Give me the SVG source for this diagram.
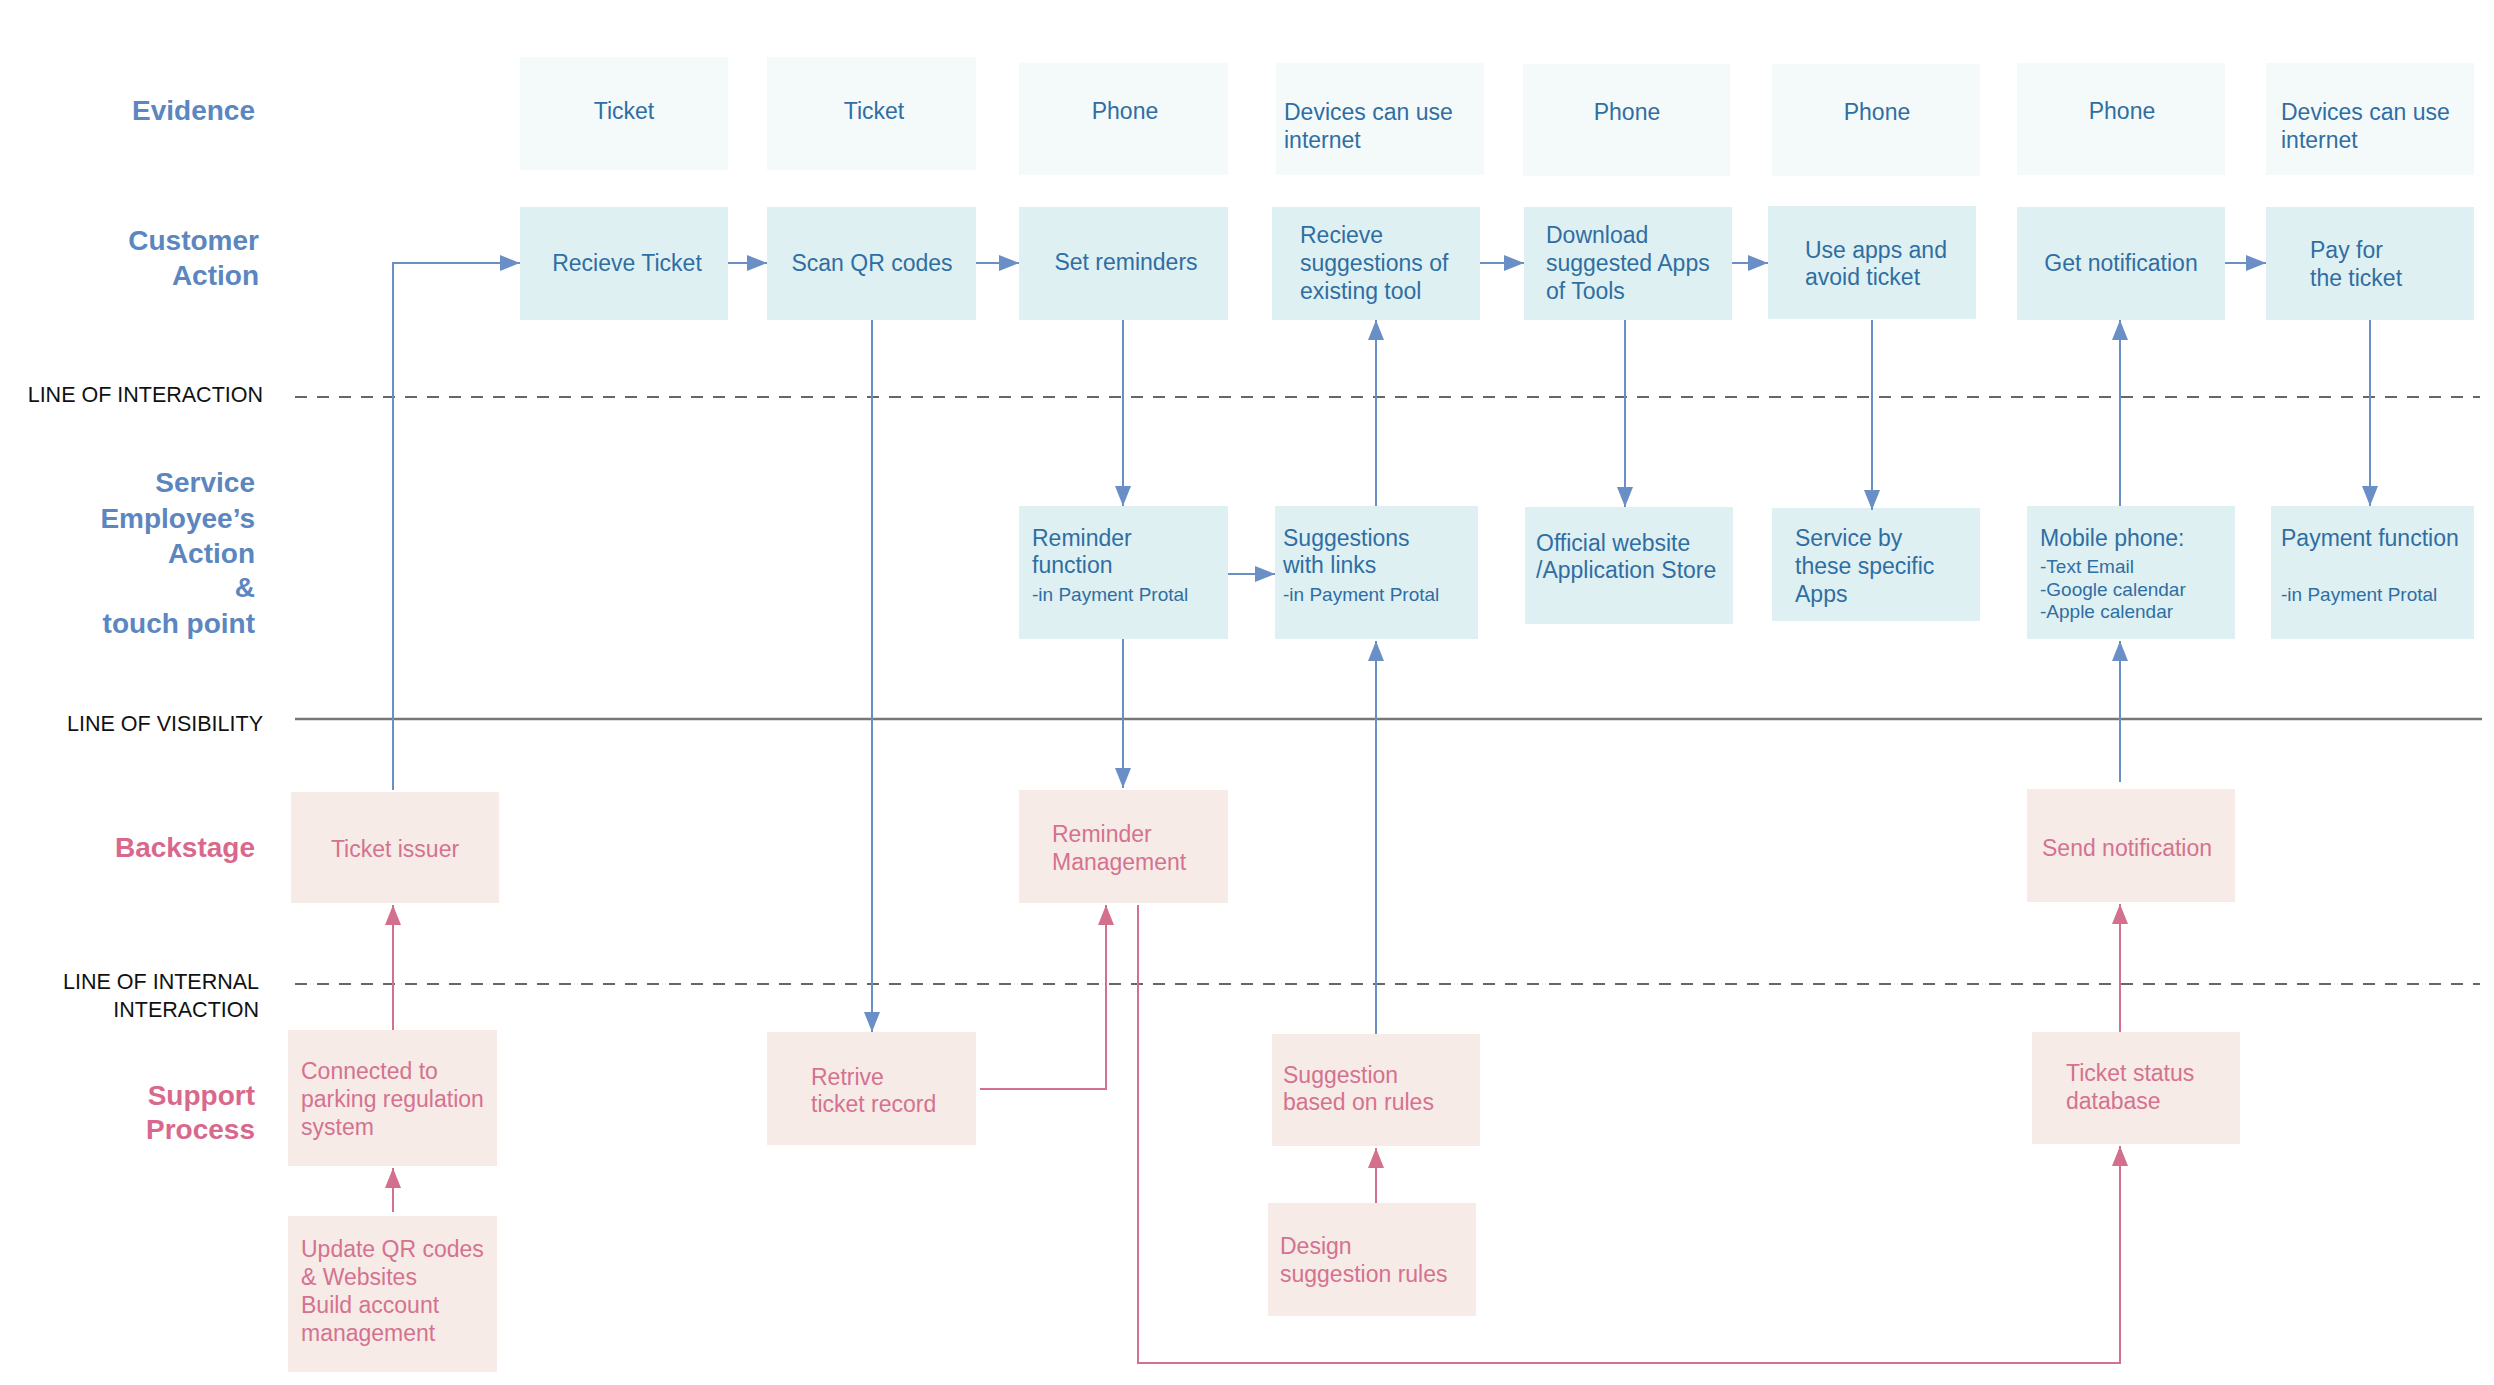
<svg xmlns="http://www.w3.org/2000/svg" width="2494" height="1385" viewBox="0 0 2494 1385">
<style>
text{font-family:"Liberation Sans",Arial,sans-serif;}
.ev{fill:#f4fafa}.ca{fill:#dff0f2}.pk{fill:#f7ebe8}
.bt{fill:#2f6ea3;font-size:23px}.st{fill:#2f6ea3;font-size:19px}
.pt{fill:#d4728f;font-size:23px}
.lb{fill:#5b86c0;font-size:28px;font-weight:bold;text-anchor:end}
.lp{fill:#d9688d;font-size:28px;font-weight:bold;text-anchor:end}
.ll{fill:#111;font-size:21.5px;text-anchor:end}
.c{text-anchor:middle}
.bl{stroke:#6a8fc6;stroke-width:2;fill:none;marker-end:url(#ab)}
.pl{stroke:#d3708e;stroke-width:2;fill:none;marker-end:url(#ap)}
</style>
<defs>
<marker id="ab" markerUnits="userSpaceOnUse" markerWidth="20" markerHeight="20" viewBox="0 0 20 20" refX="20" refY="10" orient="auto"><path d="M0,2 L20,10 L0,18 Z" fill="#6a8fc6"/></marker>
<marker id="ap" markerUnits="userSpaceOnUse" markerWidth="20" markerHeight="20" viewBox="0 0 20 20" refX="20" refY="10" orient="auto"><path d="M0,2 L20,10 L0,18 Z" fill="#d3708e"/></marker>
</defs>
<g id="labels">
<text class="lb" x="255" y="120">Evidence</text>
<text class="lb" x="259" y="250">Customer</text>
<text class="lb" x="259" y="285">Action</text>
<text class="lb" x="255" y="492">Service</text>
<text class="lb" x="255" y="528">Employee’s</text>
<text class="lb" x="255" y="563">Action</text>
<text class="lb" x="255" y="597">&amp;</text>
<text class="lb" x="255" y="633">touch point</text>
<text class="lp" x="255" y="857">Backstage</text>
<text class="lp" x="255" y="1105">Support</text>
<text class="lp" x="255" y="1139">Process</text>
<text class="ll" x="263" y="402">LINE OF INTERACTION</text>
<text class="ll" x="263" y="731">LINE OF VISIBILITY</text>
<text class="ll" x="259" y="989">LINE OF INTERNAL</text>
<text class="ll" x="259" y="1017">INTERACTION</text>
</g>
<g id="lines">
<line x1="295" y1="397" x2="2480" y2="397" stroke="#666" stroke-width="2" stroke-dasharray="12,10"/>
<line x1="295" y1="719" x2="2482" y2="719" stroke="#777" stroke-width="2.5"/>
<line x1="295" y1="984" x2="2480" y2="984" stroke="#666" stroke-width="2" stroke-dasharray="12,10"/>
</g>
<g id="evidence">
<g id="ev1"><rect class="ev" x="520" y="57" width="208" height="113"/><text class="bt c" x="624" y="119">Ticket</text></g>
<g id="ev2"><rect class="ev" x="767" y="57" width="209" height="113"/><text class="bt c" x="874" y="119">Ticket</text></g>
<g id="ev3"><rect class="ev" x="1019" y="63" width="209" height="112"/><text class="bt c" x="1125" y="119">Phone</text></g>
<g id="ev4"><rect class="ev" x="1276" y="63" width="208" height="112"/><text class="bt" x="1284" y="120">Devices can use</text><text class="bt" x="1284" y="148">internet</text></g>
<g id="ev5"><rect class="ev" x="1523" y="64" width="207" height="112"/><text class="bt c" x="1627" y="120">Phone</text></g>
<g id="ev6"><rect class="ev" x="1772" y="64" width="208" height="112"/><text class="bt c" x="1877" y="120">Phone</text></g>
<g id="ev7"><rect class="ev" x="2017" y="63" width="208" height="112"/><text class="bt c" x="2122" y="119">Phone</text></g>
<g id="ev8"><rect class="ev" x="2266" y="63" width="208" height="112"/><text class="bt" x="2281" y="120">Devices can use</text><text class="bt" x="2281" y="148">internet</text></g>
</g>
<g id="customer">
<g id="ca1"><rect class="ca" x="520" y="207" width="208" height="113"/><text class="bt c" x="627" y="271">Recieve Ticket</text></g>
<g id="ca2"><rect class="ca" x="767" y="207" width="209" height="113"/><text class="bt c" x="872" y="271">Scan QR codes</text></g>
<g id="ca3"><rect class="ca" x="1019" y="207" width="209" height="113"/><text class="bt c" x="1126" y="270">Set reminders</text></g>
<g id="ca4"><rect class="ca" x="1272" y="207" width="208" height="113"/><text class="bt" x="1300" y="243">Recieve</text><text class="bt" x="1300" y="271">suggestions of</text><text class="bt" x="1300" y="299">existing tool</text></g>
<g id="ca5"><rect class="ca" x="1524" y="207" width="208" height="113"/><text class="bt" x="1546" y="243">Download</text><text class="bt" x="1546" y="271">suggested Apps</text><text class="bt" x="1546" y="299">of Tools</text></g>
<g id="ca6"><rect class="ca" x="1768" y="206" width="208" height="113"/><text class="bt" x="1805" y="258">Use apps and</text><text class="bt" x="1805" y="285">avoid ticket</text></g>
<g id="ca7"><rect class="ca" x="2017" y="207" width="208" height="113"/><text class="bt c" x="2121" y="271">Get notification</text></g>
<g id="ca8"><rect class="ca" x="2266" y="207" width="208" height="113"/><text class="bt" x="2310" y="258">Pay for</text><text class="bt" x="2310" y="286">the ticket</text></g>
</g>
<g id="service">
<g id="sv1"><rect class="ca" x="1019" y="506" width="209" height="133"/><text class="bt" x="1032" y="546">Reminder</text><text class="bt" x="1032" y="573">function</text><text class="st" x="1032" y="601">-in Payment Protal</text></g>
<g id="sv2"><rect class="ca" x="1275" y="506" width="203" height="133"/><text class="bt" x="1283" y="546">Suggestions</text><text class="bt" x="1283" y="573">with links</text><text class="st" x="1283" y="601">-in Payment Protal</text></g>
<g id="sv3"><rect class="ca" x="1525" y="507" width="208" height="117"/><text class="bt" x="1536" y="551">Official website</text><text class="bt" x="1536" y="578">/Application Store</text></g>
<g id="sv4"><rect class="ca" x="1772" y="508" width="208" height="113"/><text class="bt" x="1795" y="546">Service by</text><text class="bt" x="1795" y="574">these specific</text><text class="bt" x="1795" y="602">Apps</text></g>
<g id="sv5"><rect class="ca" x="2027" y="506" width="208" height="133"/><text class="bt" x="2040" y="546">Mobile phone:</text><text class="st" x="2040" y="573">-Text Email</text><text class="st" x="2040" y="596">-Google calendar</text><text class="st" x="2040" y="618">-Apple calendar</text></g>
<g id="sv6"><rect class="ca" x="2271" y="506" width="203" height="133"/><text class="bt" x="2281" y="546">Payment function</text><text class="st" x="2281" y="601">-in Payment Protal</text></g>
</g>
<g id="backstage">
<g id="bs1"><rect class="pk" x="291" y="792" width="208" height="111"/><text class="pt c" x="395" y="857">Ticket issuer</text></g>
<g id="bs2"><rect class="pk" x="1019" y="790" width="209" height="113"/><text class="pt" x="1052" y="842">Reminder</text><text class="pt" x="1052" y="870">Management</text></g>
<g id="bs3"><rect class="pk" x="2027" y="789" width="208" height="113"/><text class="pt" x="2042" y="856">Send notification</text></g>
</g>
<g id="support">
<g id="sp1"><rect class="pk" x="288" y="1030" width="209" height="136"/><text class="pt" x="301" y="1079">Connected to</text><text class="pt" x="301" y="1107">parking regulation</text><text class="pt" x="301" y="1135">system</text></g>
<g id="sp2"><rect class="pk" x="288" y="1216" width="209" height="156"/><text class="pt" x="301" y="1257">Update QR codes</text><text class="pt" x="301" y="1285">&amp; Websites</text><text class="pt" x="301" y="1313">Build account</text><text class="pt" x="301" y="1341">management</text></g>
<g id="sp3"><rect class="pk" x="767" y="1032" width="209" height="113"/><text class="pt" x="811" y="1085">Retrive</text><text class="pt" x="811" y="1112">ticket record</text></g>
<g id="sp4"><rect class="pk" x="1272" y="1034" width="208" height="112"/><text class="pt" x="1283" y="1083">Suggestion</text><text class="pt" x="1283" y="1110">based on rules</text></g>
<g id="sp5"><rect class="pk" x="1268" y="1203" width="208" height="113"/><text class="pt" x="1280" y="1254">Design</text><text class="pt" x="1280" y="1282">suggestion rules</text></g>
<g id="sp6"><rect class="pk" x="2032" y="1032" width="208" height="112"/><text class="pt" x="2066" y="1081">Ticket status</text><text class="pt" x="2066" y="1109">database</text></g>
</g>
<g id="connectors">
<path class="bl" d="M393,790 V263 H520"/>
<path class="bl" d="M728,263 H767"/>
<path class="bl" d="M976,263 H1019"/>
<path class="bl" d="M1480,263 H1524"/>
<path class="bl" d="M1732,263 H1768"/>
<path class="bl" d="M2225,263 H2266"/>
<path class="bl" d="M872,320 V1032"/>
<path class="bl" d="M1123,320 V506"/>
<path class="bl" d="M1123,639 V788"/>
<path class="bl" d="M1228,574 H1275"/>
<path class="bl" d="M1376,1034 V641"/>
<path class="bl" d="M1376,506 V320"/>
<path class="bl" d="M1625,320 V507"/>
<path class="bl" d="M1872,320 V510"/>
<path class="bl" d="M2120,506 V320"/>
<path class="bl" d="M2120,782 V641"/>
<path class="bl" d="M2370,320 V506"/>
<path class="pl" d="M393,1030 V905"/>
<path class="pl" d="M393,1212 V1168"/>
<path class="pl" d="M980,1089 H1106 V905"/>
<path class="pl" d="M1138,905 V1363 H2120 V1146"/>
<path class="pl" d="M2120,1032 V904"/>
<path class="pl" d="M1376,1203 V1148"/>
</g>
</svg>
